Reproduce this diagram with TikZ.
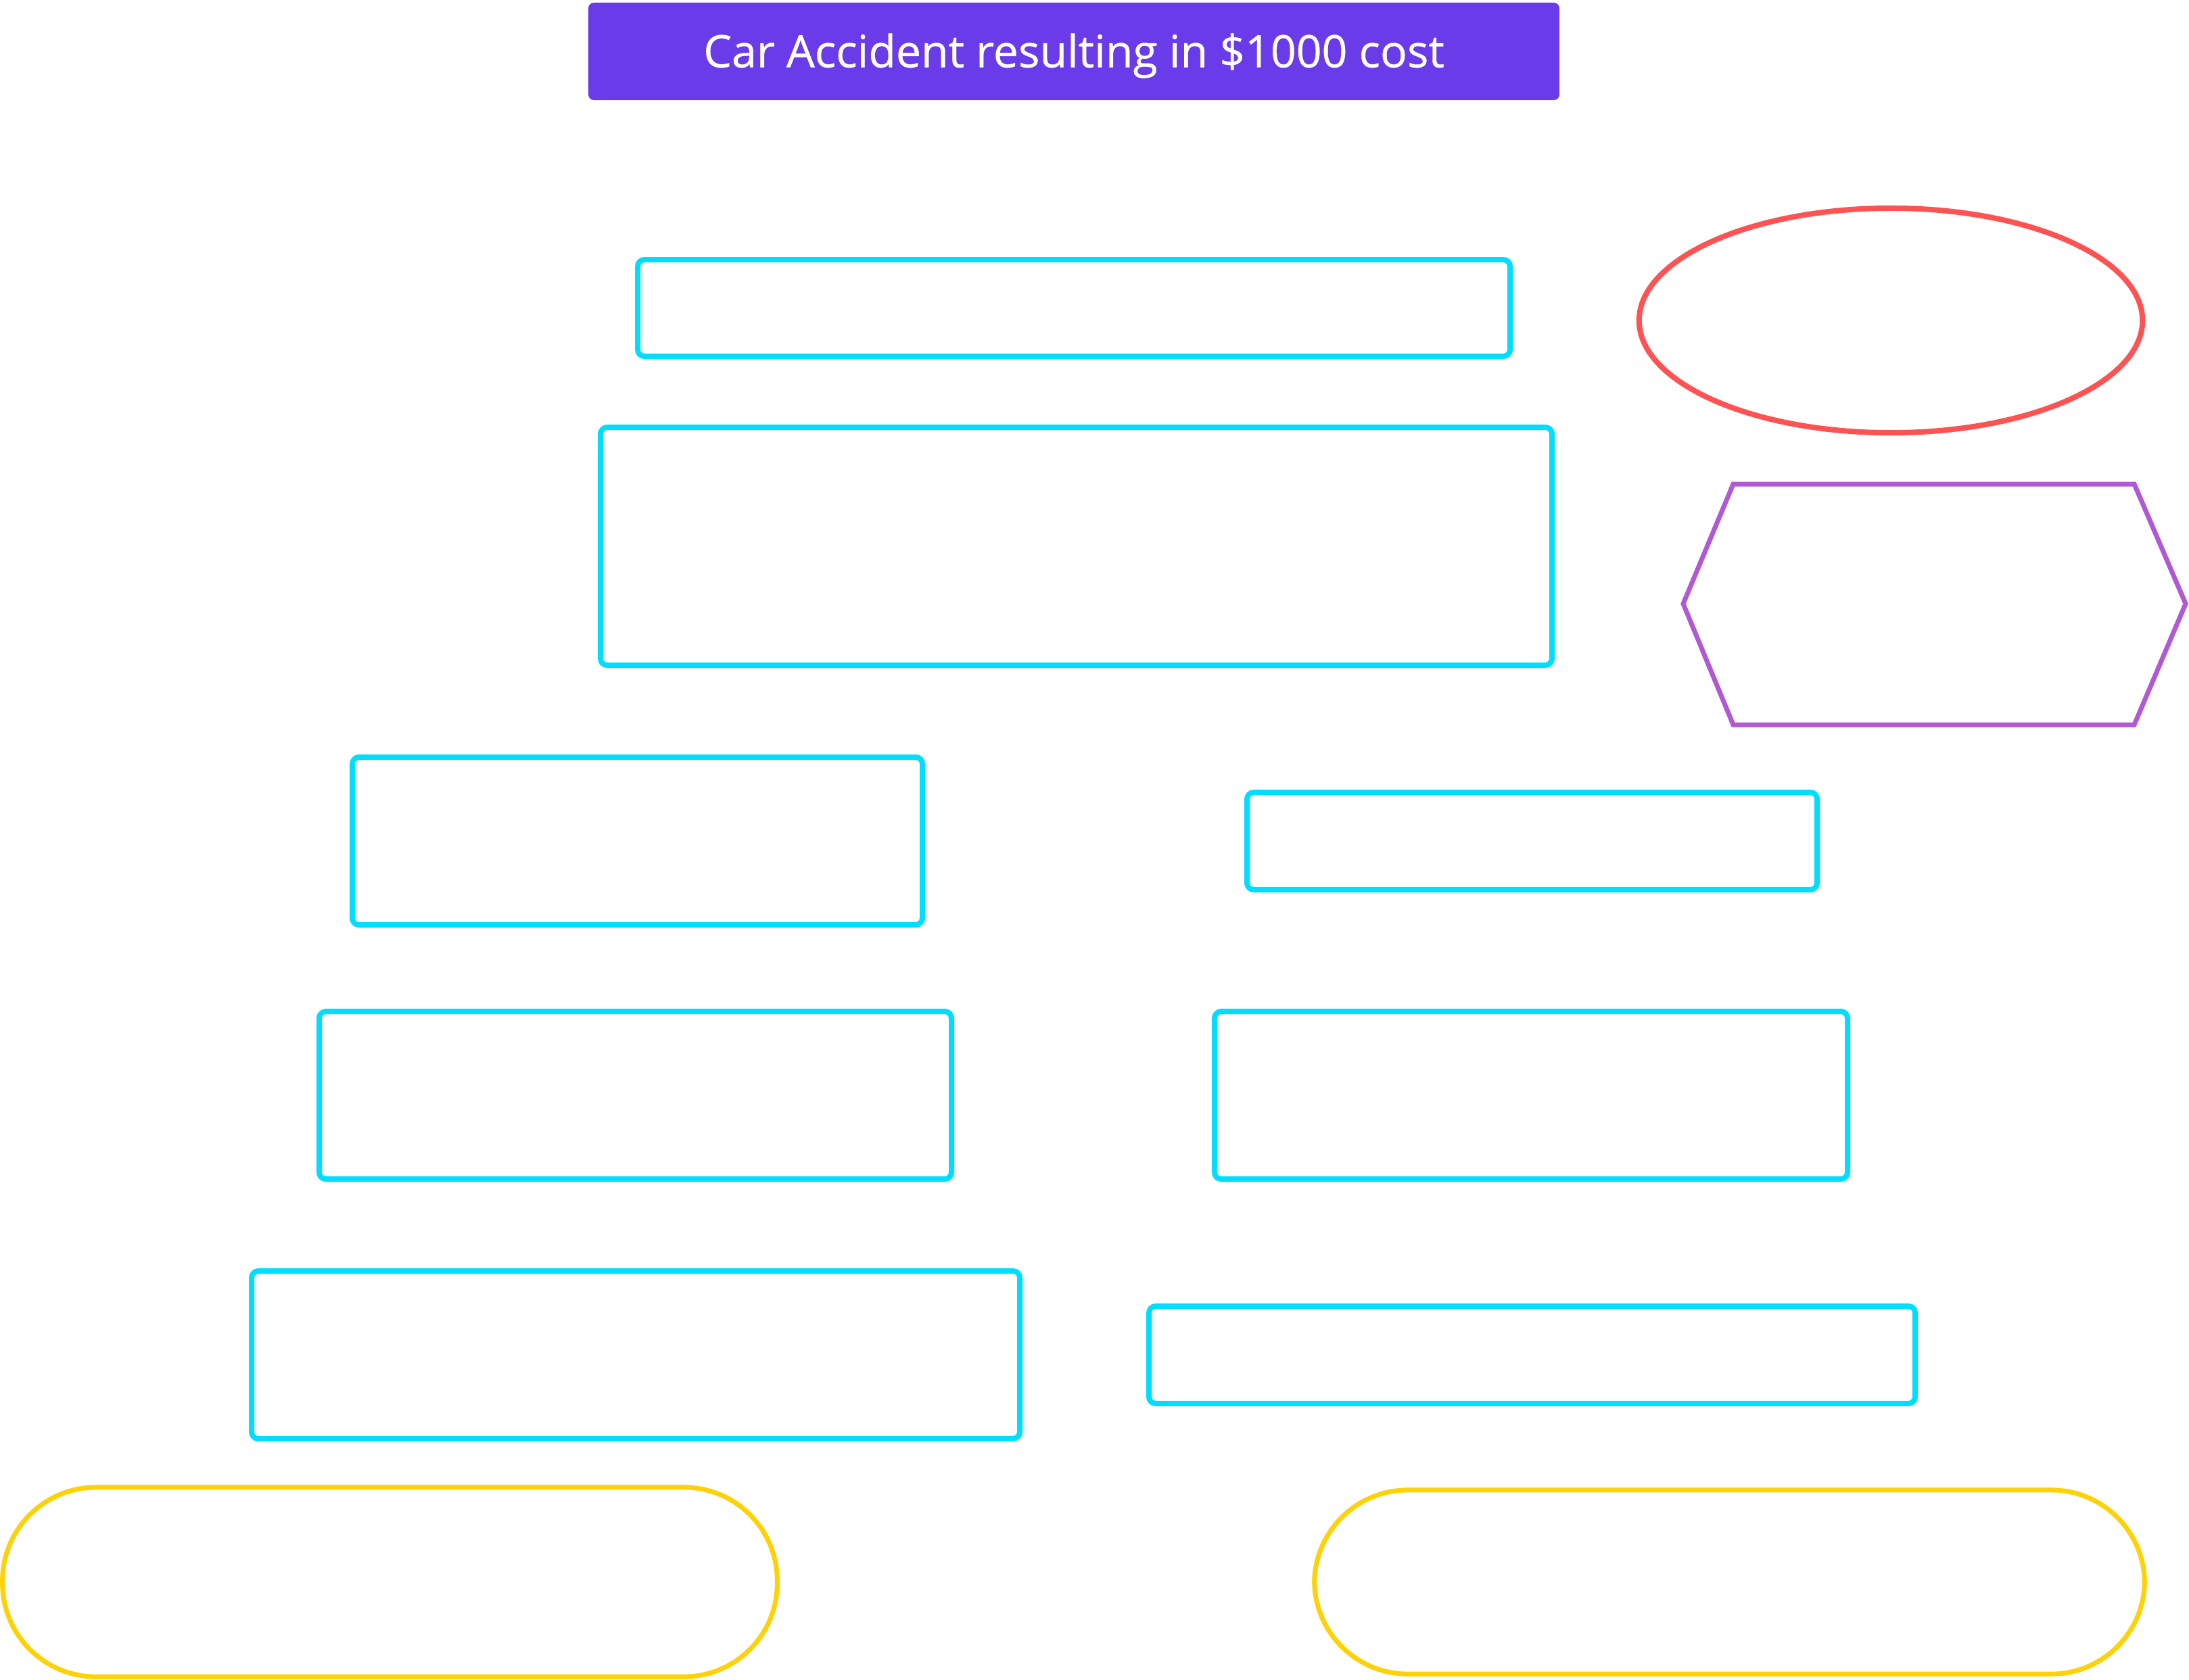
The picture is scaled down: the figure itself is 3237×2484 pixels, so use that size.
\documentclass[tikz,border=0pt]{standalone}
\usepackage{fontspec}
\setmainfont{Open Sans}
\newfontfamily\titlefont[FakeBold=0.6]{Open Sans}
\usetikzlibrary{shapes.geometric,shapes.misc}
\definecolor{titlefill}{HTML}{6A3BE8}
\definecolor{boxcyan}{HTML}{00DDFF}
\definecolor{ovalred}{HTML}{FF5252}
\definecolor{hexpurple}{HTML}{B158D4}
\definecolor{pillyellow}{HTML}{FFD107}
\tikzset{
  titlebox/.style={fill=titlefill, draw=none, rounded corners=0.08cm, inner sep=0pt,
    text=white, font=\titlefont\fontsize{18.8pt}{22pt}\selectfont, text height=0.47cm, text depth=0pt},
  cbox/.style={draw=boxcyan, line width=0.08cm, rounded corners=0.1cm, inner sep=0pt},
  oval/.style={ellipse, draw=ovalred, line width=0.08cm, inner sep=0pt},
  hexline/.style={draw=hexpurple, line width=0.07cm, line join=miter},
  pill/.style={draw=pillyellow, line width=0.07cm, rounded corners=1.38cm, inner sep=0pt},
}
\newcommand{\cboxat}[5]{% name, x1, y1, x2, y2 (px)
  \node[cbox, minimum width={(#4-#2)*0.01cm}, minimum height={(#5-#3)*0.01cm}]
    (#1) at ({(#2+#4)/2},{(#3+#5)/2}) {};}
\begin{document}
\begin{tikzpicture}[x=0.01cm,y=-0.01cm]
\useasboundingbox (0,0) rectangle (3237,2484);
% title
\node[titlebox, minimum width=14.35cm, minimum height=1.44cm] (title) at (1588,76) {Car Accident resulting in \$1000 cost};
% cyan boxes
\cboxat{boxA}{943}{384}{2233}{527}
\cboxat{boxB}{888}{632}{2295}{984}
\cboxat{boxC}{521}{1120}{1364}{1368}
\cboxat{boxD}{1844}{1172}{2687}{1316}
\cboxat{boxE}{472}{1496}{1407}{1744}
\cboxat{boxF}{1796}{1496}{2732}{1744}
\cboxat{boxG}{372}{1880}{1508}{2128}
\cboxat{boxH}{1699}{1932}{2832}{2076}
% ellipse
\node[oval, minimum width=7.44cm, minimum height=3.32cm] (oval) at (2796,474) {};
% hexagon
\coordinate (h1) at (2489,893);
\coordinate (h2) at (2563,716);
\coordinate (h3) at (3156,716);
\coordinate (h4) at (3232,893);
\coordinate (h5) at (3156,1072);
\coordinate (h6) at (2563,1072);
\draw[hexline] (h1) -- (h2) -- (h3) -- (h4) -- (h5) -- (h6) -- cycle;
% pills
\node[pill, minimum width=11.45cm, minimum height=2.8cm] (pillL) at (576.5,2340) {};
\node[pill, minimum width=12.27cm, minimum height=2.72cm] (pillR) at (2557.5,2340) {};
\end{tikzpicture}
\end{document}
